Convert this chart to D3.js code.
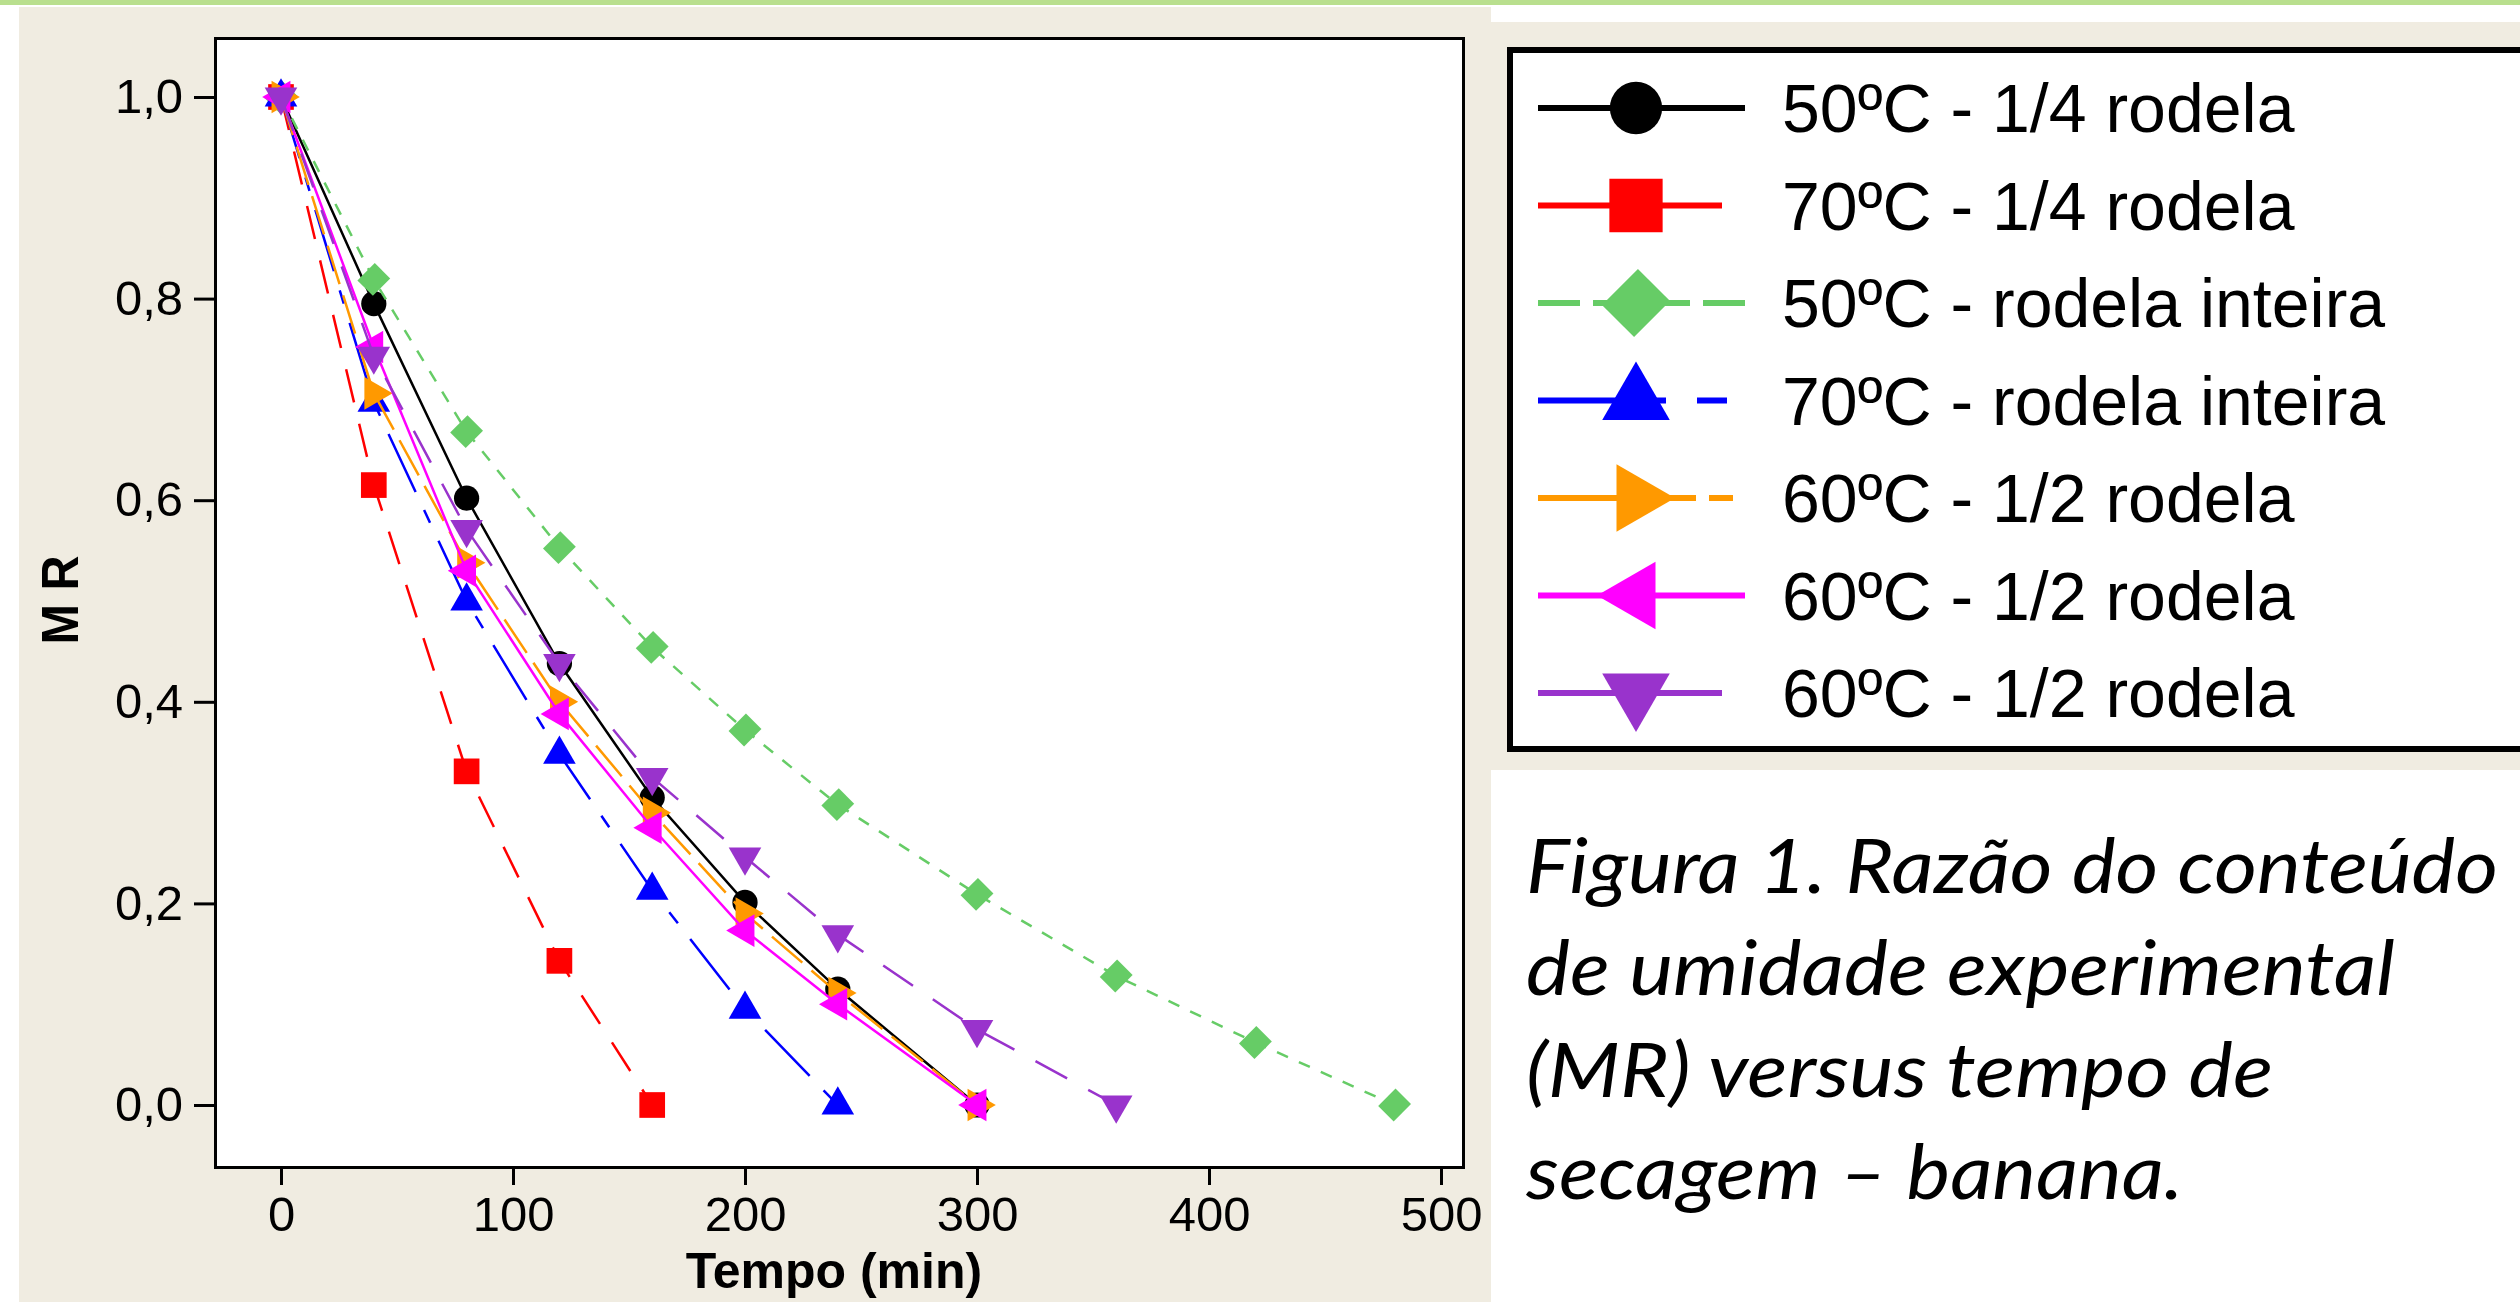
<!DOCTYPE html>
<html>
<head>
<meta charset="utf-8">
<script src="https://cdn.jsdelivr.net/npm/d3@7"></script>
<style>
  body { margin: 0; background: #fff; }
  svg { display: block; }
</style>
</head>
<body>
<script>
// tempos de secagem (min) de cada ensaio
var tempo50q = [0, 40, 80, 120, 160, 200, 240, 300];
var tempo70q = [0, 40, 80, 120, 160];
var tempo50i = [0, 40, 80, 120, 160, 200, 240, 300, 360, 420, 480];
var tempo70i = [0, 40, 80, 120, 160, 200, 240];
var tempo60a = [0, 40, 80, 120, 160, 200, 240, 300];
var tempo60b = [0, 40, 80, 120, 160, 200, 240, 300];
var tempo60c = [0, 40, 80, 120, 160, 200, 240, 300, 360];

// razao de umidade (MR)
var mr50q = [1.0, 0.795, 0.602, 0.438, 0.305, 0.201, 0.115, 0.0];
var mr70q = [1.0, 0.615, 0.331, 0.143, 0.0];
var mr50i = [1.0, 0.819, 0.668, 0.553, 0.454, 0.372, 0.298, 0.209, 0.128, 0.062, 0.0];
var mr70i = [1.0, 0.697, 0.500, 0.348, 0.213, 0.095, 0.0];
var mr60a = [1.0, 0.706, 0.538, 0.400, 0.290, 0.190, 0.111, 0.0];
var mr60b = [1.0, 0.752, 0.530, 0.388, 0.275, 0.173, 0.100, 0.0];
var mr60c = [1.0, 0.743, 0.571, 0.438, 0.325, 0.246, 0.169, 0.075, 0.0];

var labels = ['50ºC - 1/4 rodela', '70ºC - 1/4 rodela', '50ºC - rodela inteira',
              '70ºC - rodela inteira', '60ºC - 1/2 rodela', '60ºC - 1/2 rodela', '60ºC - 1/2 rodela'];
var xTicks = [0, 100, 200, 300, 400, 500];
var yTicks = [0, 0.2, 0.4, 0.6, 0.8, 1.0];
var caption = ['Figura 1. Razão do conteúdo', 'de umidade experimental',
               '(MR) versus tempo de', 'secagem – banana.'];

var W = 2520, H = 1302;

var series = [
  { t: tempo50q, mr: mr50q, color: '#000000', dash: null,          sym: d3.symbolCircle,   rot: 0,   size: 500, leg: null },
  { t: tempo70q, mr: mr70q, color: '#ff0000', dash: '34,22',       sym: d3.symbolSquare,   rot: 0,   size: 660, leg: '184,1000' },
  { t: tempo50i, mr: mr50i, color: '#66cc66', dash: '12,12',       sym: d3.symbolSquare,   rot: 45,  size: 480, leg: '42,13', sy: 1.12 },
  { t: tempo70i, mr: mr70i, color: '#0000ff', dash: '64,20,14,20', sym: d3.symbolTriangle, rot: 0,   size: 460, leg: '128,31,30,1000' },
  { t: tempo60a, mr: mr60a, color: '#ff9900', dash: '40,12',       sym: d3.symbolTriangle, rot: 90,  size: 460, leg: '158,13,24,1000' },
  { t: tempo60b, mr: mr60b, color: '#ff00ff', dash: null,          sym: d3.symbolTriangle, rot: -90, size: 460, leg: null },
  { t: tempo60c, mr: mr60c, color: '#9933cc', dash: '36,24',       sym: d3.symbolTriangle, rot: 180, size: 460, leg: '184,1000' }
];

var svg = d3.select('body')
            .append('svg')
            .attr('width', W)
            .attr('height', H);

// fundo do slide
svg.append('rect').attr('x', 0).attr('y', 0).attr('width', W).attr('height', 5).attr('fill', '#b9df8e');
svg.append('rect').attr('x', 19).attr('y', 7).attr('width', 1472).attr('height', H - 7).attr('fill', '#f0ece1');
svg.append('rect').attr('x', 1491).attr('y', 22).attr('width', W - 1491).attr('height', 748).attr('fill', '#f0ece1');

var x = d3.scaleLinear().domain([0, 500]).range([281, 1441]);
var y = d3.scaleLinear().domain([0, 1]).range([1105, 97]);

svg.append('rect')
  .attr('x', 215.5).attr('y', 38.5)
  .attr('width', 1248).attr('height', 1129)
  .attr('fill', '#fff')
  .attr('stroke', '#000')
  .attr('stroke-width', 3);

var pt = d3.formatLocale({ decimal: ',', thousands: '.', grouping: [3], currency: ['', ''] });

var gy = svg.append('g')
  .attr('transform', 'translate(214,0)')
  .call(d3.axisLeft(y).tickValues(yTicks).tickSize(20).tickPadding(11).tickFormat(pt.format('.1f')));
var gx = svg.append('g')
  .attr('transform', 'translate(0,1169)')
  .call(d3.axisBottom(x).tickValues(xTicks).tickSize(16).tickPadding(11).tickFormat(pt.format('d')));

[gx, gy].forEach((g) => {
  g.select('.domain').remove();
  g.selectAll('.tick line').attr('stroke', '#000').attr('stroke-width', 3);
  g.selectAll('.tick text')
    .attr('fill', '#000')
    .attr('font-family', 'Liberation Sans, Arial, sans-serif')
    .attr('font-size', 49);
});

svg.append('text')
  .text('Tempo (min)')
  .attr('x', 834).attr('y', 1288)
  .attr('text-anchor', 'middle')
  .attr('font-family', 'Liberation Sans, Arial, sans-serif')
  .attr('font-weight', 'bold')
  .attr('font-size', 50);

svg.append('text')
  .text('M R')
  .attr('transform', 'translate(78,600) rotate(-90)')
  .attr('text-anchor', 'middle')
  .attr('font-family', 'Liberation Sans, Arial, sans-serif')
  .attr('font-weight', 'bold')
  .attr('font-size', 52)
  .attr('textLength', 89)
  .attr('lengthAdjust', 'spacingAndGlyphs');

function marker(s) {
  return 'rotate(' + s.rot + ') scale(1,' + (s.sy || 1) + ')';
}

var line = d3.line().x((d) => x(d[0])).y((d) => y(d[1]));

series.forEach((s) => {
  var g = svg.append('g');
  var pts = d3.zip(s.t, s.mr);

  g.append('path')
    .attr('d', line(pts))
    .attr('fill', 'none')
    .attr('stroke', s.color)
    .attr('stroke-width', 2.5)
    .attr('stroke-dasharray', s.dash);

  g.selectAll('path.pt')
    .data(pts)
    .enter()
    .append('path')
      .attr('class', 'pt')
      .attr('d', d3.symbol().type(s.sym).size(s.size))
      .attr('transform', (d) => 'translate(' + x(d[0]) + ',' + y(d[1]) + ') ' + marker(s))
      .attr('fill', s.color);
});

// legenda
svg.append('rect')
  .attr('x', 1510).attr('y', 50)
  .attr('width', 1100).attr('height', 699)
  .attr('fill', '#fff')
  .attr('stroke', '#000')
  .attr('stroke-width', 6);

var rowY = (i) => 108 + i * 97.5;

var lg = svg.selectAll('g.leg')
  .data(series)
  .enter()
  .append('g')
    .attr('class', 'leg')
    .attr('transform', (d, i) => 'translate(0,' + rowY(i) + ')');

lg.append('line')
  .attr('x1', 1538).attr('x2', 1745)
  .attr('stroke', (d) => d.color)
  .attr('stroke-width', 6)
  .attr('stroke-dasharray', (d) => d.leg);

lg.append('path')
  .attr('d', (d) => d3.symbol().type(d.sym).size(d.size * 4.3)())
  .attr('transform', (d) => 'translate(1636,0) ' + marker(d))
  .attr('fill', (d) => d.color);

lg.append('text')
  .text((d, i) => labels[i])
  .attr('x', 1782).attr('y', 24)
  .attr('font-family', 'Liberation Sans, Arial, sans-serif')
  .attr('font-size', 68)
  .attr('fill', '#000');

// legenda da figura
var capWidths = [972, 869, 747, 657];
svg.selectAll('text.cap')
  .data(caption)
  .enter()
  .append('text')
    .attr('class', 'cap')
    .text((d) => d)
    .attr('x', 1526)
    .attr('y', (d, i) => 893 + i * 102)
    .attr('font-family', 'Lato, "Open Sans", sans-serif')
    .attr('font-style', 'italic')
    .attr('font-size', 75)
    .attr('textLength', (d, i) => capWidths[i])
    .attr('lengthAdjust', 'spacingAndGlyphs')
    .attr('fill', '#000');
</script>
</body>
</html>
